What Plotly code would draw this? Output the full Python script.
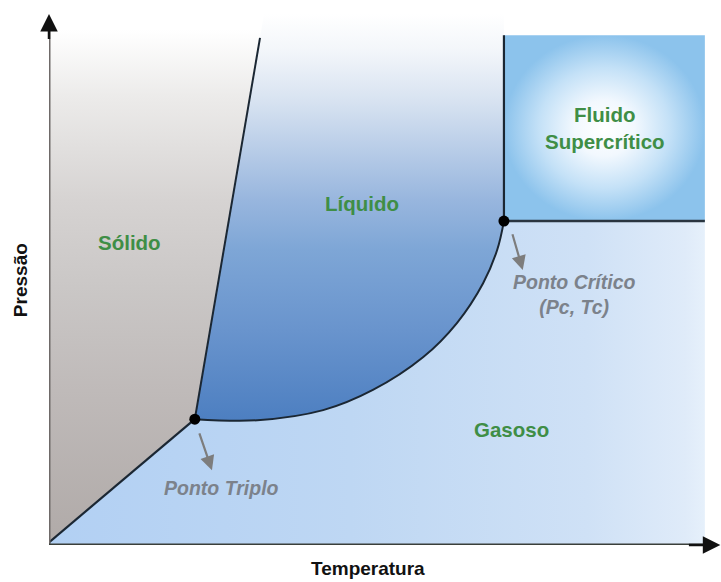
import plotly.graph_objects as go

# ---- data (arbitrary units: Temperatura 0-100, Pressão 0-100) ----
triple_point = (21.7, 23.7)
critical_point = (67.7, 61.0)

# sólido-gás (sublimação)
sub_T = [0.0, 21.7]
sub_P = [0.5, 23.7]
# sólido-líquido (fusão)
fus_T = [21.7, 31.4]
fus_P = [23.7, 95.5]
# líquido-gás (vaporização)
vap_T = [21.7, 31.0, 40.8, 48.2, 55.7, 60.7, 64.6, 66.7, 67.7]
vap_P = [23.7, 23.5, 25.4, 29.2, 35.4, 41.8, 49.3, 55.6, 61.0]
# região supercrítica
sc_T = [67.7, 97.6]
sc_P = [61.0, 96.0]

region_labels = ["Sólido", "Líquido", "Fluido<br>Supercrítico", "Gasoso"]
region_T = [12.0, 46.6, 82.7, 68.8]
region_P = [56.9, 64.4, 78.6, 21.7]

point_labels = ["Ponto Triplo", "Ponto Crítico<br>(Pc, Tc)"]
point_label_T = [25.7, 78.1]
point_label_P = [10.7, 47.1]
arrow_tail_T = [22.3, 68.9]
arrow_tail_P = [21.3, 58.8]
arrow_head_T = [24.25, 70.5]
arrow_head_P = [14.1, 51.8]

x_title = "Temperatura"
y_title = "Pressão"

GREEN = "#3f8e46"
GRAY_TXT = "#7c828b"
LINE = "#1b2733"
FONT = "Liberation Sans, Arial, sans-serif"

fig = go.Figure()

# Gás (horizontal gradient) - polygon below the chord triple->critical
fig.add_trace(go.Scatter(
    x=[sub_T[0], sc_T[1], sc_T[1], critical_point[0], triple_point[0], sub_T[0]],
    y=[0, 0, sc_P[0], critical_point[1], triple_point[1], sub_P[0]],
    mode="lines", line=dict(width=0), fill="toself",
    fillgradient=dict(type="horizontal", start=0, stop=sc_T[1],
                      colorscale=[[0, "#b2d0f3"], [0.46, "#bed7f3"], [0.82, "#cfe1f6"],
                                  [0.97, "#dfebf9"], [1, "#e6f0fb"]]),
    hoverinfo="skip", showlegend=False))

# Sólido (vertical gradient)
fig.add_trace(go.Scatter(
    x=[sub_T[0], triple_point[0], fus_T[1], fus_T[1] + 0.6, 0, sub_T[0]],
    y=[sub_P[0], triple_point[1], fus_P[1], 100, 100, sub_P[0]],
    mode="lines", line=dict(width=0), fill="toself",
    fillgradient=dict(type="vertical", start=0, stop=97,
                      colorscale=[[0, "#b0aaa8"], [0.3, "#bfbab9"], [0.5, "#cac7c6"],
                                  [0.67, "#d6d3d2"], [0.87, "#ecebea"], [1, "#ffffff"]]),
    hoverinfo="skip", showlegend=False))

# Líquido: curve (spline) then upper boundary filled 'tonext'
fig.add_trace(go.Scatter(
    x=vap_T, y=vap_P, mode="lines", line=dict(width=0, shape="spline"),
    hoverinfo="skip", showlegend=False))
fig.add_trace(go.Scatter(
    x=[triple_point[0], fus_T[1], fus_T[1] + 0.6, critical_point[0], critical_point[0]],
    y=[triple_point[1], fus_P[1], 100, 100, critical_point[1]],
    mode="lines", line=dict(width=0), fill="tonext",
    fillgradient=dict(type="vertical", start=20, stop=100,
                      colorscale=[[0, "#4a7dc0"], [0.044, "#4d7fc1"], [0.256, "#6994cd"],
                                  [0.445, "#7ea6d6"], [0.5625, "#98b6de"], [0.7975, "#d8e3f1"],
                                  [0.915, "#f3f6fa"], [1, "#ffffff"]]),
    hoverinfo="skip", showlegend=False))

# Fluido supercrítico (radial gradient)
fig.add_trace(go.Scatter(
    x=[sc_T[0], sc_T[1], sc_T[1], sc_T[0], sc_T[0]],
    y=[sc_P[0], sc_P[0], sc_P[1], sc_P[1], sc_P[0]],
    mode="lines", line=dict(width=0), fill="toself",
    fillgradient=dict(type="radial",
                      colorscale=[[0, "#ffffff"], [0.3, "#f2f8fe"], [0.65, "#c4e1f7"], [1, "#8cc3ec"]]),
    hoverinfo="skip", showlegend=False))

# boundary lines
fig.add_trace(go.Scatter(x=sub_T, y=sub_P, mode="lines", line=dict(color=LINE, width=2.2),
                         hoverinfo="skip", showlegend=False))
fig.add_trace(go.Scatter(x=fus_T, y=fus_P, mode="lines", line=dict(color=LINE, width=2),
                         hoverinfo="skip", showlegend=False))
fig.add_trace(go.Scatter(x=vap_T, y=vap_P, mode="lines", line=dict(color=LINE, width=2, shape="spline"),
                         hoverinfo="skip", showlegend=False))
fig.add_trace(go.Scatter(x=[sc_T[0], sc_T[0]], y=[sc_P[0], sc_P[1]], mode="lines",
                         line=dict(color=LINE, width=2.2), hoverinfo="skip", showlegend=False))
fig.add_trace(go.Scatter(x=[sc_T[0], sc_T[1]], y=[sc_P[0], sc_P[0]], mode="lines",
                         line=dict(color="#2a3540", width=2.5), hoverinfo="skip", showlegend=False))

# triple & critical points
fig.add_trace(go.Scatter(x=[triple_point[0], critical_point[0]], y=[triple_point[1], critical_point[1]],
                         mode="markers", marker=dict(color="#000000", size=11),
                         hoverinfo="skip", showlegend=False))

# axes lines (gray) with black arrow heads
fig.add_shape(type="line", x0=0, y0=0, x1=0, y1=97, line=dict(color="#6f6a69", width=3))
fig.add_shape(type="line", x0=0, y0=0, x1=98, y1=0, line=dict(color="#3a3f3a", width=3))
fig.add_annotation(x=0, y=100, ax=0, ay=95, xref="x", yref="y", axref="x", ayref="y",
                   showarrow=True, arrowhead=2, arrowsize=1.4, arrowwidth=2.5, arrowcolor="#111111", text="")
fig.add_annotation(x=99.9, y=0, ax=95, ay=0, xref="x", yref="y", axref="x", ayref="y",
                   showarrow=True, arrowhead=2, arrowsize=1.4, arrowwidth=2.5, arrowcolor="#111111", text="")

# region labels
for t, xv, yv in zip(region_labels, region_T, region_P):
    fig.add_annotation(x=xv, y=yv, text=t, showarrow=False, xanchor="center", yanchor="middle",
                       font=dict(family=FONT, size=20.5, color=GREEN, weight="bold"))

# point labels + arrows
for t, xv, yv in zip(point_labels, point_label_T, point_label_P):
    fig.add_annotation(x=xv, y=yv, text=t, showarrow=False, xanchor="center", yanchor="middle",
                       font=dict(family=FONT, size=19.5, color=GRAY_TXT, weight="bold", style="italic"))
for tx, ty, hx, hy in zip(arrow_tail_T, arrow_tail_P, arrow_head_T, arrow_head_P):
    fig.add_annotation(x=hx, y=hy, ax=tx, ay=ty, xref="x", yref="y", axref="x", ayref="y",
                       showarrow=True, arrowhead=2, arrowsize=1.3, arrowwidth=2.2,
                       arrowcolor="#7d7d7d", text="")

# axis titles
fig.add_annotation(x=0.4747, y=-0.045, xref="paper", yref="paper", text=x_title, showarrow=False,
                   xanchor="center", yanchor="middle",
                   font=dict(family=FONT, size=19, color="#111111", weight="bold"))
fig.add_annotation(x=-0.043, y=0.499, xref="paper", yref="paper", text=y_title, showarrow=False,
                   xanchor="center", yanchor="middle",
                   textangle=-90, font=dict(family=FONT, size=19, color="#111111", weight="bold"))

fig.update_layout(
    width=721, height=582,
    margin=dict(l=49, r=0, t=14, b=37),
    paper_bgcolor="white", plot_bgcolor="white",
    xaxis=dict(range=[0, 100], visible=False, fixedrange=True),
    yaxis=dict(range=[0, 100], visible=False, fixedrange=True),
    showlegend=False,
)

fig.write_html("out.html", config={"displayModeBar": False},
               post_script="document.body.style.margin='0px';")
